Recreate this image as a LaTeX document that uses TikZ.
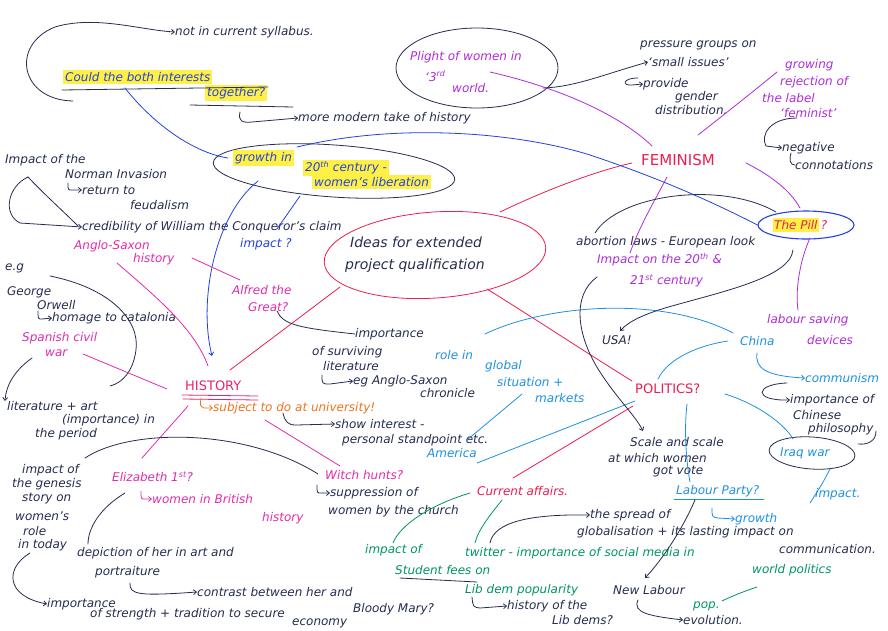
\documentclass[tikz,border=0pt]{standalone}
\usepackage{fontspec}
\setmainfont{DejaVu Sans}
\usetikzlibrary{shapes.geometric,arrows.meta}
\definecolor{inkc}{RGB}{38,45,80}
\definecolor{blu}{RGB}{35,65,225}
\definecolor{lblu}{RGB}{30,145,225}
\definecolor{mag}{RGB}{225,45,170}
\definecolor{histc}{RGB}{232,35,110}
\definecolor{crim}{RGB}{235,30,80}
\definecolor{purp}{RGB}{175,45,215}
\definecolor{grn}{RGB}{0,150,95}
\definecolor{orng}{RGB}{240,115,30}
\definecolor{hl}{RGB}{255,240,70}
\newcommand\hand{\fontsize{12}{14}\selectfont\itshape}
\newcommand\handM{\fontsize{14}{16}\selectfont\itshape}
\newcommand\handH{\fontsize{13}{15}\selectfont}
\newcommand\handF{\fontsize{15}{17}\selectfont}
\begin{document}
\begin{tikzpicture}[x=1pt,y=-1pt,
  txt/.style={anchor=west,inner sep=0pt,font=\hand},
  hlt/.style={fill=hl,inner xsep=2pt,inner ysep=2pt},
  ell/.style={ellipse,draw,line width=0.8pt,inner sep=0pt},
  con/.style={line width=0.8pt,line cap=round},
  arr/.style={-{Straight Barb[length=3pt,width=5pt]}}]
\useasboundingbox (0,0) rectangle (888,630);
\fill[white] (0,0) rectangle (888,630);

% ---------- ellipses ----------
\node[ell,draw=inkc,minimum width=162pt,minimum height=80pt] (plight) at (477,68) {};
\node[ell,draw=inkc,minimum width=242pt,minimum height=52pt,rotate=-4] (gell) at (334,171) {};
\node[ell,draw=crim,minimum width=222pt,minimum height=86pt,rotate=4] (ideas) at (435,255) {};
\node[ell,draw=blu,line width=1.1pt,minimum width=96pt,minimum height=28pt] (pill) at (806,225) {};
\node[ell,draw=inkc,minimum width=86pt,minimum height=32pt,rotate=-4] (iraq) at (812,453) {};

% ---------- top left ----------
\node[txt,text=inkc] (syl) at (175,32) {not in current syllabus.};
\node[txt,hlt,text=blu] (could1) at (63,77) {Could the both interests};
\node[txt,hlt,text=blu] (could2) at (205,93) {together?};
\node[txt,text=inkc] (modern) at (298,118) {more modern take of history};

% ---------- plight / pressure ----------
\node[txt,text=purp] (pl1) at (410,57) {Plight of women in};
\node[txt,text=purp] (pl2) at (425,76) {‘3\textsuperscript{rd}};
\node[txt,text=purp] (pl3) at (452,88) {world.};
\node[txt,text=inkc] (pr1) at (640,45) {pressure groups on};
\node[txt,text=inkc] (pr2) at (648,62) {‘small issues’};
\node[txt,text=inkc] (pv1) at (643,84) {provide};
\node[txt,text=inkc] (pv2) at (675,97) {gender};
\node[txt,text=inkc] (pv3) at (655,110) {distribution.};

% ---------- feminism ----------
\node[txt,text=purp] (gr1) at (785,65) {growing};
\node[txt,text=purp] (gr2) at (780,82) {rejection of};
\node[txt,text=purp] (gr3) at (762,98) {the label};
\node[txt,text=purp] (gr4) at (780,113) {‘feminist’};
\node[txt,text=inkc] (ng1) at (782,148) {negative};
\node[txt,text=inkc] (ng2) at (795,165) {connotations};
\node[txt,text=crim,font=\handF] (fem) at (641,160) {FEMINISM};

% ---------- growth ----------
\node[txt,hlt,text=blu] (gw1) at (233,158) {growth in};
\node[txt,hlt,text=blu] (gw2) at (303,168) {20\textsuperscript{th} century -};
\node[txt,hlt,text=blu] (gw3) at (312,182) {women's liberation};

% ---------- central ----------
\node[txt,text=inkc,font=\handM] (id1) at (350,242) {Ideas for extended};
\node[txt,text=inkc,font=\handM] (id2) at (345,266) {project qualification};

% ---------- left / history ----------
\node[txt,text=inkc] (nm1) at (5,160) {Impact of the};
\node[txt,text=inkc] (nm2) at (65,174) {Norman Invasion};
\node[txt,text=inkc] (nm3) at (82,190) {return to};
\node[txt,text=inkc] (nm4) at (130,205) {feudalism};
\node[txt,text=inkc] (cred) at (82,227) {credibility of William the Conqueror's claim};
\node[txt,text=blu] (impq) at (240,244) {impact ?};
\node[txt,text=mag] (as1) at (74,246) {Anglo-Saxon};
\node[txt,text=mag] (as2) at (133,259) {history};
\node[txt,text=mag] (al1) at (232,290) {Alfred the};
\node[txt,text=mag] (al2) at (248,307) {Great?};
\node[txt,text=inkc] (im1) at (355,334) {importance};
\node[txt,text=inkc] (im2) at (312,352) {of surviving};
\node[txt,text=inkc] (im3) at (323,366) {literature};
\node[txt,text=inkc] (im4) at (353,381) {eg Anglo-Saxon};
\node[txt,text=inkc] (im5) at (420,393) {chronicle};
\node[txt,text=inkc] (eg) at (5,268) {e.g};
\node[txt,text=inkc] (geo) at (7,292) {George};
\node[txt,text=inkc] (orw) at (37,305) {Orwell};
\node[txt,text=inkc] (hom) at (52,318) {homage to catalonia};
\node[txt,text=mag] (sp1) at (22,338) {Spanish civil};
\node[txt,text=mag] (sp2) at (45,353) {war};
\node[txt,text=inkc] (lt1) at (7,406) {literature + art};
\node[txt,text=inkc] (lt2) at (62,420) {(importance) in};
\node[txt,text=inkc] (lt3) at (35,434) {the period};
\node[txt,text=histc,font=\handH] (hist) at (185,386) {HISTORY};
\node[txt,text=orng] (subj) at (213,408) {subject to do at university!};
\node[txt,text=inkc] (sh1) at (335,424) {show interest -};
\node[txt,text=inkc] (sh2) at (342,440) {personal standpoint etc.};

% ---------- politics ----------
\node[txt,text=lblu] (ro1) at (435,355) {role in};
\node[txt,text=lblu] (ro2) at (485,366) {global};
\node[txt,text=lblu] (ro3) at (497,382) {situation +};
\node[txt,text=lblu] (ro4) at (535,398) {markets};
\node[txt,text=lblu] (ame) at (427,453) {America};
\node[txt,text=crim,font=\handH] (pol) at (635,389) {POLITICS?};
\node[txt,text=inkc] (abo) at (576,242) {abortion laws - European look};
\node[txt,text=purp] (i20a) at (597,260) {Impact on the 20\textsuperscript{th} \&};
\node[txt,text=purp] (i20b) at (630,281) {21\textsuperscript{st} century};
\node[txt,hlt,text=crim,inner xsep=1pt] (pillt) at (773,225) {The Pill};
\node[txt,text=crim] (pillq) at ([xshift=2pt]pillt.east) {?};
\node[txt,text=inkc] (usa) at (602,340) {USA!};
\node[txt,text=purp] (lab) at (767,320) {labour saving};
\node[txt,text=lblu] (chi) at (740,341) {China};
\node[txt,text=purp] (dev) at (807,340) {devices};
\node[txt,text=lblu] (com) at (805,378) {communism};
\node[txt,text=inkc] (ic1) at (790,400) {importance of};
\node[txt,text=inkc] (ic2) at (793,415) {Chinese};
\node[txt,text=inkc] (ic3) at (808,429) {philosophy};
\node[txt,text=lblu] (iraqt) at (780,453) {Iraq war};
\node[txt,text=lblu] (impb) at (815,494) {impact.};
\node[txt,text=inkc] (sc1) at (630,442) {Scale and scale};
\node[txt,text=inkc] (sc2) at (608,458) {at which women};
\node[txt,text=inkc] (sc3) at (653,472) {got vote};
\node[txt,text=lblu] (lp) at (676,491) {Labour Party?};
\node[txt,text=lblu] (gb) at (735,519) {growth};
\node[txt,text=inkc] (spr1) at (590,515) {the spread of};
\node[txt,text=inkc] (spr2) at (577,532) {globalisation + its lasting impact on};
\node[txt,text=inkc] (spr3) at (779,549) {communication.};

% ---------- bottom ----------
\node[txt,text=mag] (wh) at (325,475) {Witch hunts?};
\node[txt,text=inkc] (su1) at (330,493) {suppression of};
\node[txt,text=inkc] (su2) at (328,511) {women by the church};
\node[txt,text=crim] (cur) at (477,491) {Current affairs.};
\node[txt,text=mag] (el) at (112,477) {Elizabeth 1\textsuperscript{st}?};
\node[txt,text=mag] (wb) at (152,499) {women in British};
\node[txt,text=mag] (wb2) at (262,518) {history};
\node[txt,text=inkc] (gn1) at (22,470) {impact of};
\node[txt,text=inkc] (gn2) at (12,484) {the genesis};
\node[txt,text=inkc] (gn3) at (22,499) {story on};
\node[txt,text=inkc] (gn4) at (15,516) {women's};
\node[txt,text=inkc] (gn5) at (23,531) {role};
\node[txt,text=inkc] (gn6) at (18,545) {in today};
\node[txt,text=inkc] (dp1) at (77,553) {depiction of her in art and};
\node[txt,text=inkc] (dp2) at (95,572) {portraiture};
\node[txt,text=inkc] (ct) at (197,592) {contrast between her and};
\node[txt,text=inkc] (bm) at (353,609) {Bloody Mary?};
\node[txt,text=inkc] (is1) at (47,604) {importance};
\node[txt,text=inkc] (is2) at (90,614) {of strength + tradition to secure};
\node[txt,text=inkc] (is3) at (292,623) {economy};
\node[txt,text=grn] (tw1) at (365,550) {impact of};
\node[txt,text=grn] (tw2) at (465,553) {twitter - importance of social media in};
\node[txt,text=grn] (wp) at (752,570) {world politics};
\node[txt,text=grn] (stu) at (395,570) {Student fees on};
\node[txt,text=grn] (ld) at (465,590) {Lib dem popularity};
\node[txt,text=inkc] (hl1) at (507,606) {history of the};
\node[txt,text=inkc] (hl2) at (552,620) {Lib dems?};
\node[txt,text=inkc] (nl) at (613,590) {New Labour};
\node[txt,text=grn] (pop) at (693,606) {pop.};
\node[txt,text=inkc] (ev) at (683,620) {evolution.};

% ---------- connectors ----------
\draw[con,inkc,arr] (73,101) .. controls (20,100) and (10,45) .. (55,27) .. controls (95,15) and (140,30) .. (syl.west);
\draw[con,inkc] (62,90) -- (268,87);
\draw[con,inkc] (190,105) -- (293,107);
\draw[con,blu] (125,88) .. controls (150,120) and (190,152) .. (228,158);
\draw[con,inkc,arr] (240,112) .. controls (238,121) and (242,123) .. (252,122) -- (modern.west);
\draw[con,inkc,arr] (543,88) .. controls (575,87) and (605,74) .. (pr2.west);
\draw[con,inkc,arr] (638,78) .. controls (622,78) and (622,86) .. (632,85) -- (pv1.west);
\draw[con,purp] (490,72) .. controls (560,88) and (620,115) .. (652,146);
\draw[con,purp] (698,135) .. controls (730,110) and (755,90) .. (777,72);
\draw[con,purp] (746,163) .. controls (770,175) and (790,190) .. (800,208);
\draw[con,purp] (667,177) .. controls (655,200) and (640,225) .. (630,253);
\draw[con,inkc,arr] (797,118) .. controls (770,118) and (760,135) .. (766,146) -- (ng1.west);
\draw[con,inkc] (791,153) .. controls (789,160) and (790,165) .. (ng2.west);
\draw[con,crim] (500,212) .. controls (550,188) and (600,170) .. (632,163);
\draw[con,crim] (487,289) .. controls (540,322) and (590,355) .. (632,381);
\draw[con,crim] (340,287) -- (230,370);
\draw[con,blu] (297,147) .. controls (400,122) and (520,133) .. (590,155) .. controls (650,175) and (705,198) .. (pill.west);
\draw[con,blu,arr] (258,181) .. controls (215,215) and (198,300) .. (212,356);
\draw[con,blu] (300,196) -- (277,229);
\draw[con,inkc,arr] (28,177) .. controls (8,186) and (2,214) .. (20,223) -- (cred.west);
\draw[con,inkc] (28,177) .. controls (45,195) and (62,210) .. (78,226);
\draw[con,inkc,arr] (68,183) .. controls (68,190) .. (72,190) -- (nm3.west);
\draw[con,mag] (117,263) .. controls (160,300) and (195,330) .. (208,366);
\draw[con,mag] (192,258) -- (240,280);
\draw[con,inkc] (277,311) .. controls (283,325) and (300,328) .. (im1.west);
\draw[con,inkc,arr] (322,375) .. controls (322,384) .. (330,384) -- (im4.west);
\draw[con,inkc] (50,276) .. controls (110,288) and (140,320) .. (136,350) .. controls (133,372) and (122,383) .. (110,386);
\draw[con,inkc,arr] (38,311) .. controls (38,319) .. (42,319) -- (hom.west);
\draw[con,mag] (83,354) -- (167,389);
\draw[con,inkc,arr] (32,358) .. controls (15,370) and (6,385) .. (5,401);
\draw[con,histc] (182,395) -- (258,396);
\draw[con,histc] (183,399) -- (258,400);
\draw[con,orng,arr] (201,398) .. controls (200,406) .. (204,408) -- (subj.west);
\draw[con,inkc,arr] (283,413) .. controls (285,422) and (288,425) .. (296,425) -- (sh1.west);
\draw[con,mag] (265,420) -- (340,466);
\draw[con,mag] (188,406) -- (142,458);
\draw[con,inkc] (85,458) .. controls (130,428) and (245,428) .. (318,474);
\draw[con,inkc,arr] (317,485) .. controls (317,493) .. (321,493) -- (su1.west);
\draw[con,lblu] (485,334) .. controls (545,305) and (660,295) .. (733,333);
\draw[con,lblu] (728,341) .. controls (700,345) and (668,358) .. (658,379);
\draw[con,lblu,arr] (757,353) .. controls (755,368) and (765,376) .. (com.west);
\draw[con,inkc,arr] (787,383) .. controls (755,384) and (752,401) .. (ic1.west);
\draw[con,inkc] (876,431) .. controls (876,441) and (868,445) .. (858,444);
\draw[con,lblu] (725,394) .. controls (760,405) and (785,425) .. (793,439);
\draw[con,lblu] (687,404) .. controls (684,430) and (686,460) .. (690,482);
\draw[con,lblu] (635,401) -- (477,463);
\draw[con,lblu] (522,394) -- (467,440);
\draw[con,crim] (633,406) -- (513,478);
\draw[con,inkc,arr] (597,277) .. controls (572,295) and (576,335) .. (600,372) .. controls (618,400) and (635,415) .. (643,431);
\draw[con,inkc,arr] (793,250) .. controls (790,278) and (720,292) .. (665,308) .. controls (642,315) and (628,322) .. (620,331);
\draw[con,inkc] (595,233) .. controls (618,195) and (720,180) .. (776,212);
\draw[con,purp] (810,238) .. controls (800,260) and (795,290) .. (798,310);
\draw[con,lblu] (830,469) .. controls (822,485) and (815,495) .. (810,503);
\draw[con,lblu] (674,499) -- (764,499);
\draw[con,inkc,arr] (695,500) .. controls (682,530) and (662,560) .. (645,578);
\draw[con,lblu,arr] (712,508) .. controls (712,517) .. (718,518) -- (gb.west);
\draw[con,inkc,arr] (490,543) .. controls (494,522) and (530,514) .. (spr1.west);
\draw[con,grn] (470,493) .. controls (430,505) and (400,525) .. (393,543);
\draw[con,grn] (502,500) .. controls (490,515) and (478,530) .. (475,543);
\draw[con,grn] (757,587) .. controls (742,592) and (730,597) .. (722,601);
\draw[con,inkc,arr] (638,600) .. controls (632,613) and (650,616) .. (ev.west);
\draw[con,inkc] (400,578) -- (477,582);
\draw[con,inkc,arr] (472,597) .. controls (473,607) .. (480,608) -- (hl1.west);
\draw[con,inkc] (125,493) .. controls (100,508) and (88,528) .. (88,544);
\draw[con,mag,arr] (141,491) .. controls (141,499) .. (145,499) -- (wb.west);
\draw[con,inkc,arr] (130,583) .. controls (129,595) and (140,596) .. (ct.west);
\draw[con,inkc,arr] (30,553) .. controls (5,568) and (5,596) .. (is1.west);
\end{tikzpicture}
\end{document}
